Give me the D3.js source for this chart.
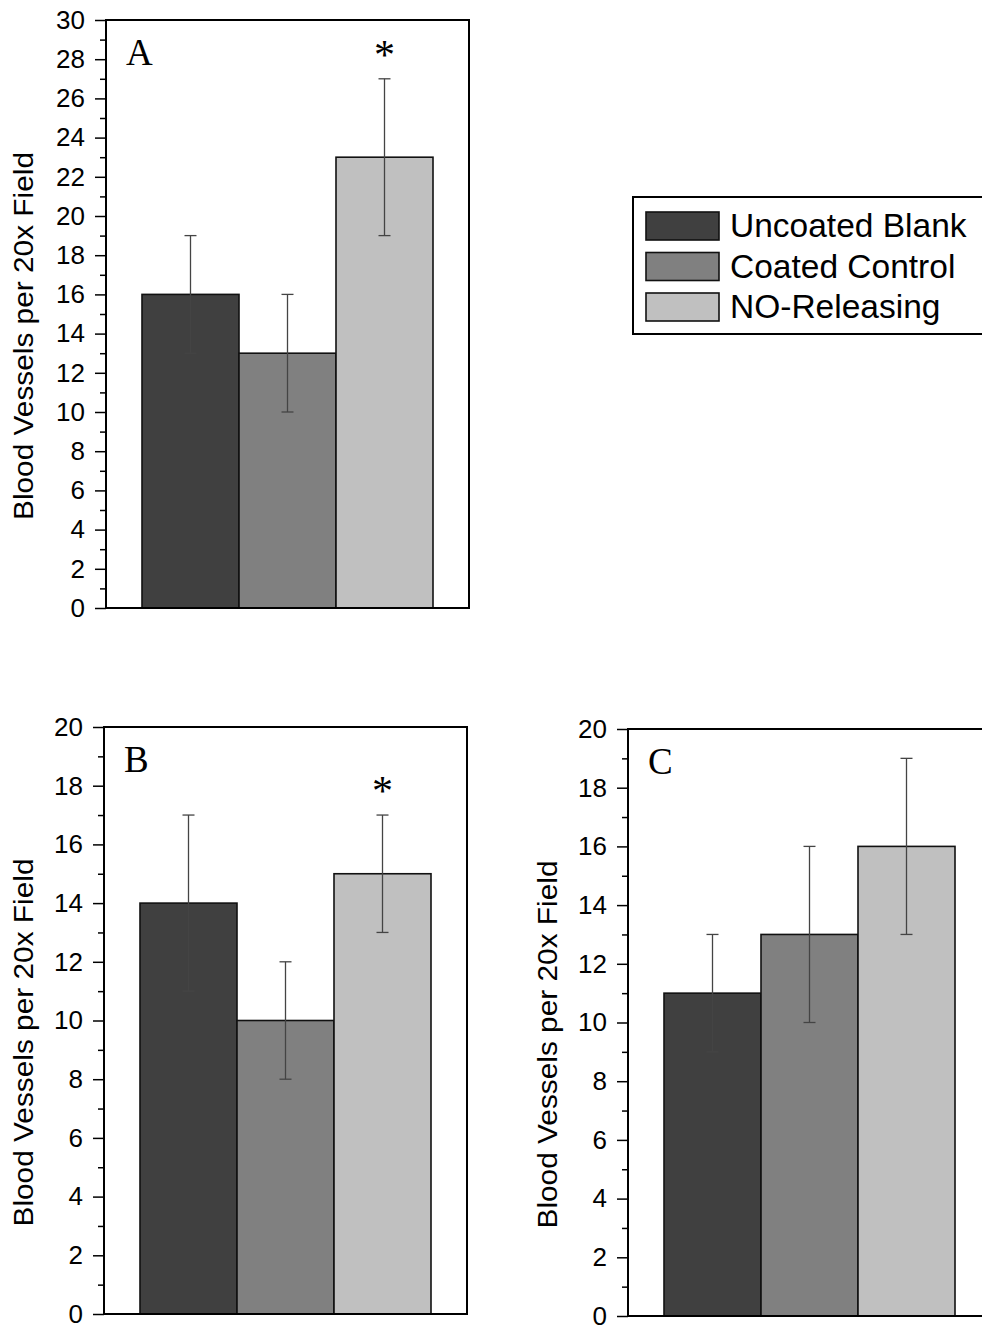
<!DOCTYPE html>
<html>
<head>
<meta charset="utf-8">
<script src="https://cdn.jsdelivr.net/npm/d3@7"></script>
<style>
  body { margin: 0; background: #fff; }
  svg { display: block; }
  text { font-family: "Liberation Sans", Arial, sans-serif; fill: #000; }
</style>
</head>
<body>
<svg id="chart"></svg>
<script>
// data
let categories = ["Uncoated Blank", "Coated Control", "NO-Releasing"];
let colors = ["#404040", "#808080", "#c0c0c0"];

let meansA = [16, 13, 23];
let errorsA = [3, 3, 4];
let meansB = [14, 10, 15];
let errorsB = [3, 2, 2];
let meansC = [11, 13, 16];
let errorsC = [2, 3, 3];

let ticksA = [0, 2, 4, 6, 8, 10, 12, 14, 16, 18, 20, 22, 24, 26, 28, 30];
let ticksBC = [0, 2, 4, 6, 8, 10, 12, 14, 16, 18, 20];

let yLabel = "Blood Vessels per 20x Field";

// svg size
let widthSVG = 982;
let heightSVG = 1325;

let SVG = d3.select('svg#chart')
            .attr('width', widthSVG)
            .attr('height', heightSVG);

// panel layout
let panels = [
  {name: 'A', means: meansA, errors: errorsA, ticks: ticksA, yMax: 30, left: 106, top: 20, bottom: 608, star: 2, labelX: 24},
  {name: 'B', means: meansB, errors: errorsB, ticks: ticksBC, yMax: 20, left: 104, top: 727, bottom: 1314, star: 2, labelX: 24},
  {name: 'C', means: meansC, errors: errorsC, ticks: ticksBC, yMax: 20, left: 628, top: 729, bottom: 1316, star: -1, labelX: 548}
];

let frameWidth = 363;
let barOffset = 36;
let barWidth = 97;

function drawPanel(p){
  let g = SVG.append('g').attr('class', 'panel panel' + p.name);

  let y = d3.scaleLinear().domain([0, p.yMax]).range([p.bottom, p.top]);
  let x = d3.scaleBand()
            .domain(categories)
            .range([p.left + barOffset, p.left + barOffset + barWidth * categories.length])
            .padding(0);

  // minor ticks
  let minor = d3.range(1, p.yMax, 2);
  g.append('g')
    .attr('transform', `translate(${p.left}, 0)`)
    .call(d3.axisLeft(y).tickValues(minor).tickSize(6).tickFormat(''))
    .call(a => a.select('.domain').remove())
    .selectAll('line').style('stroke', '#000').style('stroke-width', '1.5px');

  // major ticks with labels
  let axis = g.append('g')
    .attr('transform', `translate(${p.left}, 0)`)
    .call(d3.axisLeft(y).tickValues(p.ticks).tickSize(11).tickSizeOuter(0).tickPadding(10));
  axis.select('.domain').remove();
  axis.selectAll('line').style('stroke', '#000').style('stroke-width', '1.5px');
  axis.selectAll('text')
    .style('font-family', '"Liberation Sans", Arial, sans-serif')
    .style('font-size', '26px')
    .style('fill', '#000');

  // bars
  g.selectAll('rect.bar')
    .data(p.means)
    .enter()
    .append('rect')
    .attr('class', 'bar')
    .attr('x', (d, i) => x(categories[i]))
    .attr('width', x.bandwidth())
    .attr('y', d => y(d))
    .attr('height', d => y(0) - y(d))
    .style('fill', (d, i) => colors[i])
    .style('stroke', '#111')
    .style('stroke-width', '1.6px');

  // error bars
  let errG = g.selectAll('g.err')
    .data(p.means)
    .enter()
    .append('g')
    .attr('class', 'err')
    .attr('transform', (d, i) => `translate(${x(categories[i]) + x.bandwidth() / 2}, 0)`);

  errG.append('line')
    .attr('x1', 0).attr('x2', 0)
    .attr('y1', (d, i) => y(d - p.errors[i]))
    .attr('y2', (d, i) => y(d + p.errors[i]))
    .style('stroke', '#444').style('stroke-width', '1.3px');

  [-1, 1].forEach(s => {
    errG.append('line')
      .attr('x1', -6).attr('x2', 6)
      .attr('y1', (d, i) => y(d + s * p.errors[i]))
      .attr('y2', (d, i) => y(d + s * p.errors[i]))
      .style('stroke', '#444').style('stroke-width', '1.3px');
  });

  // frame
  g.append('rect')
    .attr('x', p.left)
    .attr('y', p.top)
    .attr('width', frameWidth)
    .attr('height', p.bottom - p.top)
    .style('fill', 'none')
    .style('stroke', '#000')
    .style('stroke-width', '2px');

  // panel letter
  g.append('text')
    .text(p.name)
    .attr('x', p.left + 20)
    .attr('y', p.top + 45)
    .style('font-family', '"Liberation Serif", "Times New Roman", serif')
    .style('font-size', '37px');

  // significance star
  if (p.star >= 0) {
    let i = p.star;
    g.append('text')
      .text('*')
      .attr('x', x(categories[i]) + x.bandwidth() / 2)
      .attr('y', y(p.means[i] + p.errors[i]) - 10)
      .style('text-anchor', 'middle')
      .style('font-family', '"Liberation Serif", "Times New Roman", serif')
      .style('font-size', '42px');
  }

  // y axis title
  let cy = (p.top + p.bottom) / 2 + 22;
  g.append('text')
    .text(yLabel)
    .attr('transform', `translate(${p.labelX + 9}, ${cy}) rotate(-90)`)
    .attr('textLength', 368)
    .attr('lengthAdjust', 'spacingAndGlyphs')
    .style('text-anchor', 'middle')
    .style('font-size', '27px');
}

panels.forEach(drawPanel);

// legend
let legendG = SVG.append('g').attr('class', 'legend');

legendG.append('rect')
  .attr('x', 633).attr('y', 197)
  .attr('width', 380).attr('height', 137)
  .style('fill', '#fff')
  .style('stroke', '#000')
  .style('stroke-width', '2px');

let legRowTop = 212;
let legRowStep = 40.5;
let legSwatchH = 28;

let legRows = legendG.selectAll('g.legRow')
  .data(categories)
  .enter()
  .append('g')
  .attr('class', 'legRow')
  .attr('transform', (d, i) => `translate(0, ${legRowTop + i * legRowStep})`);

legRows.append('rect')
  .attr('x', 646)
  .attr('width', 73)
  .attr('height', legSwatchH)
  .style('fill', (d, i) => colors[i])
  .style('stroke', '#111')
  .style('stroke-width', '1.6px');

legRows.append('text')
  .text(d => d)
  .attr('x', 730)
  .attr('y', 25)
  .style('font-size', '33.5px');
</script>
</body>
</html>
